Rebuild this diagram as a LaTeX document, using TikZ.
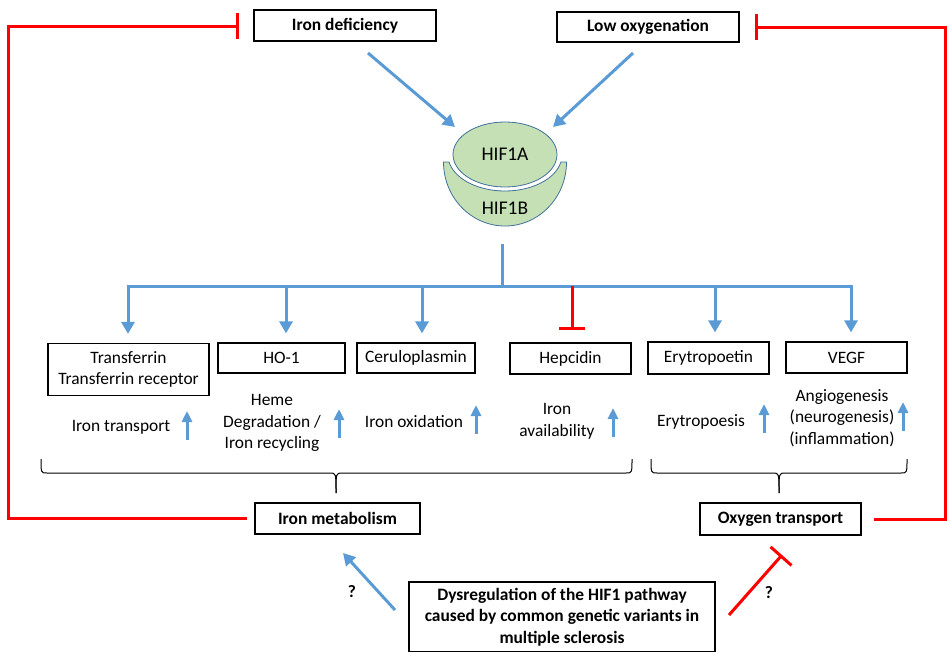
\documentclass[tikz,border=0pt]{standalone}
\usepackage{fontspec}
\setmainfont{Carlito}
\usetikzlibrary{arrows.meta,positioning,shapes.geometric}
\definecolor{hifblue}{RGB}{91,155,213}
\definecolor{hifgreen}{RGB}{197,224,180}
\definecolor{hifedge}{RGB}{65,113,156}

\begin{document}
\begin{tikzpicture}
  [x=1pt,y=-1pt,
   font=\fontsize{17.4}{21.5}\selectfont,
   box/.style={rectangle,draw,line width=1.2pt,inner sep=0pt,align=center},
   keybox/.style={box,font=\fontsize{17.4}{21.5}\selectfont\bfseries},
   effect/.style={align=center,inner sep=0pt},
   subunit/.style={font=\fontsize{19.4}{23}\selectfont},
   activ/.style={draw=hifblue,line width=3pt,-{Triangle[length=12pt,width=13pt]}},
   inhib/.style={draw=red,line width=3pt,-{Bar[width=26pt]}},
   rise/.style={draw=hifblue,line width=3pt,-{Triangle[length=11pt,width=10pt]}},
   brace/.style={line width=1pt}]
  \useasboundingbox (0,0) rectangle (947,651);

  % stimuli
  \node (idef) at (345,25.5) [keybox,minimum width=182,minimum height=31] {Iron deficiency};
  \node (lowox) at (648,27) [keybox,minimum width=182,minimum height=30] {Low oxygenation};

  % HIF1 complex
  \draw[fill=hifgreen,draw=hifedge,line width=0.8pt]
    (443.5,162) arc[start angle=180,end angle=0,x radius=61.5,y radius=64] -- (560.9,162)
    arc[start angle=11.2,end angle=168.8,x radius=57,y radius=36] -- cycle;
  \node (hifa) at (505,154.5) [ellipse,fill=hifgreen,draw=hifedge,line width=0.8pt,
    minimum width=104,minimum height=65,inner sep=0pt,subunit] {HIF1A};
  \node (hifb) at (505,208) [subunit] {HIF1B};

  \coordinate (idefout) at (368,53);
  \coordinate (hifain1) at (455,127);
  \coordinate (lowoxout) at (633,53);
  \coordinate (hifain2) at (553,127);
  \draw[activ] (idefout) -- (hifain1);
  \draw[activ] (lowoxout) -- (hifain2);

  % targets
  \node (trf) at (128.5,369.5) [box,minimum width=161,minimum height=52] {Transferrin\\Transferrin receptor};
  \node (ho) at (281.5,358) [box,minimum width=127,minimum height=30] {HO-1};
  \node (cer) at (416,358) [box,minimum width=118,minimum height=30] {Ceruloplasmin};
  \node (hep) at (570.5,358.5) [box,minimum width=121,minimum height=31] {Hepcidin};
  \node (epo) at (708.5,358) [box,minimum width=121,minimum height=32] {Erytropoetin};
  \node (vegf) at (846.5,357.5) [box,minimum width=121,minimum height=31] {VEGF};

  % bus
  \coordinate (stemtop) at (502,244);
  \coordinate (hub) at (502,286);
  \coordinate (busl) at (126.5,286);
  \coordinate (busr) at (852.5,286);
  \draw[hifblue,line width=3pt] (stemtop) -- (hub);
  \draw[hifblue,line width=3pt] (busl) -- (busr);
  \foreach \bx/\tgt [count=\i] in {128/trf,286/ho,422/cer,715/epo,851/vegf}{
    \coordinate (b\i) at (\bx,286);
    \draw[activ,shorten >=9pt] (b\i) -- (b\i |- \tgt.north);
  }
  \coordinate (bhep) at (572,286);
  \draw[inhib,shorten >=12pt] (bhep) -- (bhep |- hep.north);

  % effects
  \node (trfeff) at (121,427) [effect] {Iron transport};
  \node (hoeff) at (272,423) [effect] {Heme\\Degradation /\\Iron recycling};
  \node (cereff) at (414,422) [effect] {Iron oxidation};
  \node (hepeff) at (557,421.5) [effect] {Iron\\availability};
  \node (epoeff) at (701,422) [effect] {Erytropoesis};
  \node (vegfeff) at (842,418) [effect] {Angiogenesis\\(neurogenesis)\\(inflammation)};
  \foreach \ux/\uy [count=\i] in {187/440,339/438,476/434,613/437,764/433,903/431}{
    \coordinate (up\i) at (\ux,\uy);
    \draw[rise] (up\i) -- ++(0,-29);
  }

  % braces
  \coordinate (ltip) at (336,493);
  \coordinate (rtip) at (779,493);
  \draw[brace] (41,459) .. controls (41,473) .. (47,473) -- (330,473) .. controls (336,473) .. (ltip);
  \draw[brace] (632,459) .. controls (632,473) .. (626,473) -- (342,473) .. controls (336,473) .. (ltip);
  \draw[brace] (651,459) .. controls (651,473) .. (657,473) -- (773,473) .. controls (779,473) .. (rtip);
  \draw[brace] (907,459) .. controls (907,473) .. (901,473) -- (785,473) .. controls (779,473) .. (rtip);

  % processes
  \node (imet) at (337.5,518.5) [keybox,minimum width=165,minimum height=31] {Iron metabolism};
  \node (oxtr) at (780.5,519) [keybox,minimum width=161,minimum height=32] {Oxygen transport};

  % feedback
  \coordinate (lcorner1) at (8,518.5);
  \coordinate (lcorner2) at (8,26);
  \draw[inhib,shorten <=7pt,shorten >=14pt] (imet.west) -- (lcorner1) -- (lcorner2) -- (lcorner2 -| idef.west);
  \coordinate (rcorner1) at (945,519);
  \coordinate (rcorner2) at (945,27);
  \draw[inhib,shorten <=12pt,shorten >=15pt] (oxtr.east) -- (rcorner1) -- (rcorner2) -- (rcorner2 -| lowox.east);

  % genetic variants
  \node (dys) at (562,617) [keybox,minimum width=306,minimum height=70] {Dysregulation of the HIF1 pathway\\caused by common genetic variants in\\multiple sclerosis};
  \coordinate (dysout1) at (395,610);
  \coordinate (imetin) at (343,553);
  \coordinate (dysout2) at (729,615);
  \coordinate (oxtrin) at (782,555);
  \draw[activ] (dysout1) -- (imetin);
  \draw[inhib,-{Bar[width=28pt]}] (dysout2) -- (oxtrin);
  \node (q1) at (352,592) [font=\fontsize{17.4}{21.5}\selectfont\bfseries] {?};
  \node (q2) at (769,593) [font=\fontsize{17.4}{21.5}\selectfont\bfseries] {?};
\end{tikzpicture}
\end{document}
